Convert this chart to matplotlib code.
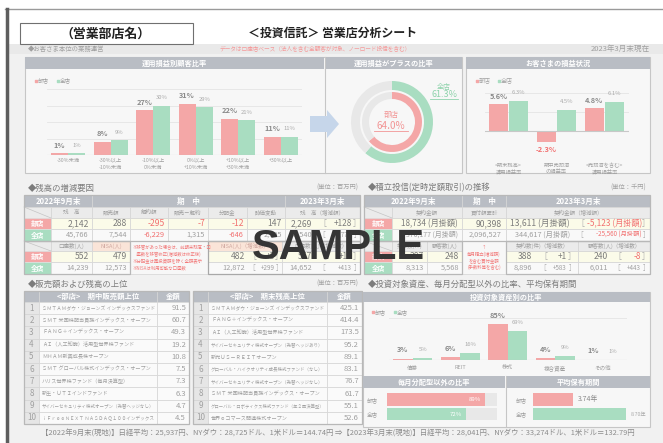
import matplotlib
matplotlib.use('Agg')
import matplotlib.pyplot as plt
from matplotlib.patches import Rectangle, Polygon
import numpy as np

plt.rcParams['font.family'] = ['Noto Sans CJK JP', 'DejaVu Sans']

# ---- data ----
pl_labels = ['-30%未満', '-30%以上\n-10%未満', '-10%以上\n0%未満',
             '0%以上\n+10%未満', '+10%以上\n+30%未満', '+30%以上']
pl_branch = [1, 8, 27, 31, 22, 11]
pl_all = [1, 9, 30, 29, 21, 11]

plus_branch = 64.0
plus_all = 61.3

status_labels = ['<期末残高>\n運用損益率', '期中売却済\nの損益率', '<売却済を含む>\n運用損益率']
status_branch = [5.6, -2.3, 4.8]
status_all = [6.3, 4.5, 6.1]

bal_heads = ['残　高', '販売額', '解約額', '販売－解約', '分配金', '時価変動']
bal_branch = [2142, 288, -295, -7, -12, 147]
bal_all = [45766, 7544, -6229, 1315, -646, 2105]
bal_end = [(2269, 128), (48540, 2774)]

acct_heads = ['口座数(人)', 'NISA(人)']
acct_start = [(552, 479), (14239, 12573)]
nisa_end = [(482, 3), (12872, 299)]
acct_end = [(567, 15), (14652, 413)]

tsumi_start = [18734, 370177]
tsumi_buy = [90398, 2096527]
tsumi_end = [(13611, -5123), (344617, -25560)]
contracts_start = [387, 8313]
customers_start = [248, 5568]
contracts_end = [(388, 1), (8896, 583)]
customers_end = [(240, -8), (6011, 443)]

sales_names = ['ＳＭＴＡＭダウ・ジョーンズ インデックスファンド',
               'ＳＭＴ 米国株配当貴族インデックス・オープン',
               'ＦＡＮＧ＋インデックス・オープン',
               'ＡＩ（人工知能）活用型世界株ファンド',
               'ＭＨＡＭ新興成長株オープン',
               'ＳＭＴ グローバル株式インデックス・オープン',
               'ハリス世界株ファンド（毎月決算型）',
               '新生・ＵＴＩインドファンド',
               'サイバーセキュリティ株式オープン（為替ヘッジなし）',
               'ｉＦｒｅｅＮＥＸＴ ＮＡＳＤＡＱ１００インデックス']
sales_values = [91.5, 60.7, 49.3, 19.2, 10.8, 7.5, 7.3, 6.3, 4.7, 4.5]

hold_names = ['ＳＭＴＡＭダウ・ジョーンズ インデックスファンド',
              'ＦＡＮＧ＋インデックス・オープン',
              'ＡＩ（人工知能）活用型世界株ファンド',
              'サイバーセキュリティ株式オープン（為替ヘッジあり）',
              '新光ＵＳ－ＲＥＩＴオープン',
              'グローバル・ハイクオリティ成長株式ファンド（なし）',
              'サイバーセキュリティ株式オープン（為替ヘッジなし）',
              'ＳＭＴ 米国株配当貴族インデックス・オープン',
              'グローバル・ロボティクス株式ファンド（年２回決算型）',
              '世界ｅコマース関連株式オープン']
hold_values = [425.1, 414.4, 173.5, 95.2, 89.1, 83.1, 76.7, 61.7, 55.1, 52.6]

asset_labels = ['債券', 'REIT', '株式', '複合資産', 'その他']
asset_branch = [3, 6, 85, 4, 1]
asset_all = [5, 16, 69, 9, 1]

non_monthly = [89, 72]
hold_years = [3.74, 8.70]
rows = ['部店', '全店']

# ---- style ----
PINK = '#f4a7a7'
GREEN = '#a9ddc1'
HEAD = '#b9bdc4'
LINE = '#d4d4d4'
GRAY = '#a0a0a0'
DARK = '#7c7c7c'
RED = '#f27070'
SUB = '#ebebeb'
YEL = '#fbfbe9'
PEACH = '#fae4d8'
PANEL = '#f7f7f7'

W, H = 663, 443
fig = plt.figure(figsize=(W / 100, H / 100), dpi=100)
bg = fig.add_axes([0, 0, 1, 1])
bg.set_xlim(0, W)
bg.set_ylim(H, 0)
bg.axis('off')


def px_axes(x0, y0, x1, y1):
    return fig.add_axes([x0 / W, 1 - y1 / H, (x1 - x0) / W, (y1 - y0) / H])


def box(x0, y0, x1, y1, fc, ec=LINE, lw=0.5, z=2, **kw):
    bg.add_patch(Rectangle((x0, y0), x1 - x0, y1 - y0, fc=fc, ec=ec, lw=lw, zorder=z, **kw))


def put(x, y, s, size=5, color=GRAY, ha='center', weight='normal', z=4, **kw):
    return bg.text(x, y, s, fontsize=size, color=color, ha=ha, va='center',
                   fontweight=weight, zorder=z, **kw)


def diag(x0, y0, x1, y1):
    box(x0, y0, x1, y1, SUB)
    bg.plot([x0, x1], [y0, y1], color='#c4c4c4', lw=0.5, zorder=3)


def legend_at(x, y, size=4):
    bg.scatter([x], [y], s=2.5, marker='s', color=PINK, zorder=5)
    put(x + 2, y, '部店', size, GRAY, ha='left')
    bg.scatter([x + 22], [y], s=2.5, marker='s', color=GREEN, zorder=5)
    put(x + 24, y, '全店', size, GRAY, ha='left')


def bar_axes(x0, y0, x1, y1):
    ax = px_axes(x0, y0, x1, y1)
    ax.set_facecolor('none')
    for s in ax.spines.values():
        s.set_visible(False)
    ax.tick_params(length=0, labelleft=False)
    return ax


def label_bars(ax, xs, vals, fmt, size, color, weight, off, neg_color=None):
    for xi, v in zip(xs, vals):
        c = neg_color if (v < 0 and neg_color) else color
        ax.annotate(fmt.format(v), (xi, v), xytext=(0, off if v >= 0 else -off),
                    textcoords='offset points', ha='center', va='center',
                    fontsize=size, color=c, fontweight=weight)


def fmt_num(v):
    return f'{v:,}'


def fmt_delta(v):
    return f'{v:+,}'


# ---- page frame ----
box(8, 44, W, H, '#f1f1f1', ec='none', z=0)
box(8, 44, W, 54, '#e9e9e9', ec='none', z=0)
bg.plot([5, W], [9, 9], color='#9a9a9a', lw=1)
bg.plot([6.5, 6.5], [9, H], color='#5e5e5e', lw=2.5)

box(20, 23, 193, 44, 'white', ec='#707070', lw=0.8)
put(106, 33.5, '（営業部店名）', 9.3, '#222222', weight='bold')
put(332, 33.5, '＜投資信託＞ 営業店分析シート', 8.6, '#222222', weight='bold')

put(28, 49, '◆お客さま本位の業務運営', 4.6, GRAY, ha='left')
put(315, 49, 'データは口座店ベース（法人を含む全顧客が対象、ノーロード投信を含む）', 4.1, '#f59a9a')
put(650, 49, '2023年3月末現在', 5.5, GRAY, ha='right')

# ---- top panels ----
box(25, 57, 462, 173, PANEL, ec='#c6c6c6', lw=0.8)
box(466, 57, 650, 173, PANEL, ec='#c6c6c6', lw=0.8)
bg.plot([325, 325], [57, 173], color='#c6c6c6', lw=0.8, zorder=3)
box(25, 57, 324, 69, HEAD, ec='none', z=3)
box(326, 57, 462, 69, HEAD, ec='none', z=3)
box(466, 57, 650, 69, HEAD, ec='none', z=3)
put(174.5, 63, '運用損益別顧客比率', 5.2, 'white', weight='bold')
put(394, 63, '運用損益がプラスの比率', 5.2, 'white', weight='bold')
put(558, 63, 'お客さまの損益状況', 5.2, 'white', weight='bold')

# chart 1: customers by P/L bucket
legend_at(36, 80.5)
ax1 = bar_axes(47, 89, 302, 155)
x = np.arange(len(pl_labels))
ax1.bar(x - 0.205, pl_branch, 0.4, color=PINK, zorder=3)
ax1.bar(x + 0.205, pl_all, 0.4, color=GREEN, zorder=3)
ax1.set_xlim(-0.5, len(pl_labels) - 0.5)
ax1.set_ylim(0, 40)
ax1.set_yticks([10, 20, 30, 40])
ax1.grid(axis='y', color='#e4e4e4', lw=0.6)
ax1.axhline(0, color='#c8c8c8', lw=0.8, zorder=4)
ax1.set_xticks(x, pl_labels, fontsize=3.8, color=GRAY, linespacing=1.6)
ax1.tick_params(axis='x', pad=1.8)
label_bars(ax1, x - 0.205, pl_branch, '{}%', 5.3, '#8a8a8a', 'bold', 5.8)
label_bars(ax1, x + 0.205, pl_all, '{}%', 4.2, '#aaaaaa', 'normal', 5.8)
box(173, 76, 307, 173, 'none', ec='#c5d3ea', lw=0.7, z=1, ls=(0, (3, 2)))

# arrow
bg.add_patch(Polygon([(310, 116), (327, 116), (327, 110), (339, 124), (327, 138),
                      (327, 132), (310, 132)], closed=True, fc='#c6d6ea', ec='none', zorder=3))

# donut: ratio of customers with positive P/L
axd = px_axes(347, 77, 437, 167)
axd.pie([plus_all, 100 - plus_all], radius=41, startangle=90, counterclock=False,
        colors=[GREEN, '#e8e8e8'], wedgeprops=dict(width=9, linewidth=0))
axd.pie([plus_branch, 100 - plus_branch], radius=30, startangle=90, counterclock=False,
        colors=[PINK, '#e8e8e8'], wedgeprops=dict(width=7, linewidth=0))
axd.set_xlim(-45, 45)
axd.set_ylim(-45, 45)
axd.set_aspect('equal')
axd.axis('off')
put(391, 115, '部店', 5.4, '#f29595')
put(391, 126, f'{plus_branch:.1f}%', 7.2, '#f29595')
bg.plot([374, 408], [131, 131], color='#f29595', lw=0.6, zorder=4)
put(444, 87, '全店', 5, '#8fd3ac')
put(444, 94.5, f'{plus_all:.1f}%', 6.5, '#8fd3ac')
bg.plot([430, 458], [99, 99], color='#8fd3ac', lw=0.6, zorder=4)

# chart 3: customer P/L status
legend_at(477, 80.5, 4.3)
ax3 = bar_axes(484.5, 93, 628.5, 150)
x3 = np.arange(len(status_labels))
ax3.bar(x3 - 0.21, status_branch, 0.41, color=PINK, zorder=3)
ax3.bar(x3 + 0.21, status_all, 0.41, color=GREEN, zorder=3)
ax3.set_xlim(-0.5, len(status_labels) - 0.5)
ax3.set_ylim(-4, 8)
ax3.set_yticks([-4, 4, 8])
ax3.grid(axis='y', color='#e4e4e4', lw=0.6)
ax3.axhline(0, color='#c8c8c8', lw=0.8, zorder=4)
ax3.set_xticks(x3, status_labels, fontsize=3.8, color=GRAY, linespacing=1.6)
ax3.tick_params(axis='x', pad=9)
label_bars(ax3, x3 - 0.21, status_branch, '{}%', 5.3, '#8a8a8a', 'bold', 5.5, neg_color=RED)
label_bars(ax3, x3 + 0.21, status_all, '{}%', 4.2, '#aaaaaa', 'normal', 6)

# ---- section 2 titles ----
put(28, 188, '◆残高の増減要因', 6, DARK, ha='left')
put(358, 188, '(単位：百万円)', 4.5, GRAY, ha='right')
put(368, 188, '◆積立投信(定時定額取引)の推移', 6, DARK, ha='left')
put(646, 188, '(単位：千円)', 4.5, GRAY, ha='right')

# ---- table 1: balance changes ----
t1x = [24, 51, 92, 130, 168, 208, 247, 285, 360]
ty = [195, 207, 218, 229, 241, 251, 262, 274]
for (a, b), s in zip([(24, 92), (92, 285), (285, 360)], ['2022年9月末', '期　中', '2023年3月末']):
    box(a, ty[0], b, ty[1], HEAD, ec='#d6d6d6')
    put((a + b) / 2, (ty[0] + ty[1]) / 2, s, 5.5, 'white', weight='bold')
diag(t1x[0], ty[1], t1x[1], ty[2])
for i, s in enumerate(bal_heads + ['残　高（増減額）']):
    a, b = t1x[i + 1], t1x[i + 2]
    box(a, ty[1], b, ty[2], SUB)
    put((a + b) / 2, (ty[1] + ty[2]) / 2, s, 4, GRAY)

row_col = [PINK, GREEN]
row_bg = [YEL, '#f9f9f9']
row_size = [6.2, 5.3]
row_txt = [DARK, GRAY]


def row_label(r, y0, y1):
    box(t_lx0, y0, t_lx1, y1, row_col[r], ec='#e0e0e0')
    put((t_lx0 + t_lx1) / 2, (y0 + y1) / 2, rows[r], 4.8, 'white', weight='bold')


def bracket_cell(a, b, y0, y1, pair, r, vr, lb, dr, rb, fmt=fmt_num, dfmt=fmt_delta):
    yc = (y0 + y1) / 2
    v, d = pair
    sz = row_size[r]
    put(vr, yc, fmt(v), sz, row_txt[r], ha='right')
    put(lb, yc, '［', sz - 0.5, '#b0b0b0')
    put(dr, yc, dfmt(d), sz - 0.8 if r else sz - 0.3, RED if d < 0 else row_txt[r], ha='right')
    put(rb, yc, '］', sz - 0.5, '#b0b0b0')


t_lx0, t_lx1 = 24, 51
for r, vals in enumerate([bal_branch, bal_all]):
    y0, y1 = ty[2 + r], ty[3 + r]
    row_label(r, y0, y1)
    for i, v in enumerate(vals):
        a, b = t1x[i + 1], t1x[i + 2]
        box(a, y0, b, y1, row_bg[r])
        put(b - 3, (y0 + y1) / 2, fmt_num(v), row_size[r], RED if v < 0 else row_txt[r], ha='right')
    box(285, y0, 360, y1, row_bg[r])
    bracket_cell(285, 360, y0, y1, bal_end[r], r, 312, 322, 352, 357)

# lower part of table 1
diag(24, ty[4], 51, ty[5])
box(51, ty[4], 92, ty[5], SUB)
put(71.5, (ty[4] + ty[5]) / 2, acct_heads[0], 4, GRAY)
box(92, ty[4], 130, ty[5], PEACH)
put(111, (ty[4] + ty[5]) / 2, acct_heads[1], 4, '#d0a8a0')
for r in range(2):
    y0, y1 = ty[5 + r], ty[6 + r]
    row_label(r, y0, y1)
    for j, (a, b) in enumerate([(51, 92), (92, 130)]):
        box(a, y0, b, y1, row_bg[r])
        put(b - 3, (y0 + y1) / 2, fmt_num(acct_start[r][j]), row_size[r], row_txt[r], ha='right')
box(130, ty[4], 208, ty[7], PANEL)
note1 = ('※移管があった場合は、前期末残高・口\n　座数を移管修正(増減数は修正後)\n'
         '※分配金は再投資額を除く全額表示\n※NISAは利用可能な口座数')
put(132, 257.5, note1, 3.2, '#f27a7a', ha='left', linespacing=1.5)
box(208, ty[4], 282, ty[5], PEACH)
put(245, (ty[4] + ty[5]) / 2, 'NISA(人)（増減数）', 4, '#d0a8a0')
box(282, ty[4], 360, ty[5], SUB)
put(321, (ty[4] + ty[5]) / 2, '口座数(人)（増減数）', 4, GRAY)
for r in range(2):
    y0, y1 = ty[5 + r], ty[6 + r]
    box(208, y0, 282, y1, row_bg[r])
    bracket_cell(208, 282, y0, y1, nisa_end[r], r, 245, 252, 275, 279)
    box(282, y0, 360, y1, row_bg[r])
    bracket_cell(282, 360, y0, y1, acct_end[r], r, 312, 322, 352, 357)
box(208, ty[4], 360, ty[7], 'none', ec='#a8a8a8', lw=0.9, z=3)
box(24, ty[0], 360, ty[4], 'none', ec='#b8b8b8', lw=0.9, z=3)
box(24, ty[4], 130, ty[7], 'none', ec='#b8b8b8', lw=0.9, z=3)

# ---- table 2: regular investment ----
for (a, b), s in zip([(364, 462), (462, 506), (506, 650)], ['2022年9月末', '期　中', '2023年3月末']):
    box(a, ty[0], b, ty[1], HEAD, ec='#d6d6d6')
    put((a + b) / 2, (ty[0] + ty[1]) / 2, s, 5.5, 'white', weight='bold')
diag(364, ty[1], 392, ty[2])
for (a, b), s in zip([(392, 462), (462, 506), (506, 650)], ['契約金額', '買付額累計', '契約金額（増減額）']):
    box(a, ty[1], b, ty[2], SUB)
    put((a + b) / 2, (ty[1] + ty[2]) / 2, s, 4, GRAY)
t_lx0, t_lx1 = 364, 392
for r in range(2):
    y0, y1 = ty[2 + r], ty[3 + r]
    yc = (y0 + y1) / 2
    row_label(r, y0, y1)
    box(392, y0, 462, y1, row_bg[r])
    put(458, yc, fmt_num(tsumi_start[r]) + ' (月掛額)', row_size[r] - 0.3, row_txt[r], ha='right')
    box(462, y0, 506, y1, row_bg[r])
    put(502, yc, fmt_num(tsumi_buy[r]), row_size[r], row_txt[r], ha='right')
    box(506, y0, 650, y1, row_bg[r])
    bracket_cell(506, 650, y0, y1, tsumi_end[r], r, 570, 580, 642, 646,
                 fmt=lambda v: fmt_num(v) + ' (月掛額)',
                 dfmt=lambda v: fmt_delta(v) + ' (月掛額)')

diag(364, ty[4], 392, ty[5])
for (a, b), s in zip([(392, 427), (427, 462), (506, 578), (578, 650)],
                     ['契約数(件)', '顧客数(人)', '契約数(件)（増減数）', '顧客数(人)（増減数）']):
    box(a, ty[4], b, ty[5], SUB)
    put((a + b) / 2, (ty[4] + ty[5]) / 2, s, 4, GRAY)
for r in range(2):
    y0, y1 = ty[5 + r], ty[6 + r]
    yc = (y0 + y1) / 2
    row_label(r, y0, y1)
    box(392, y0, 427, y1, row_bg[r])
    put(424, yc, fmt_num(contracts_start[r]), row_size[r], row_txt[r], ha='right')
    box(427, y0, 462, y1, row_bg[r])
    put(459, yc, fmt_num(customers_start[r]), row_size[r], row_txt[r], ha='right')
    box(506, y0, 578, y1, row_bg[r])
    bracket_cell(506, 578, y0, y1, contracts_end[r], r, 532, 543, 567, 572)
    box(578, y0, 650, y1, row_bg[r])
    bracket_cell(578, 650, y0, y1, customers_end[r], r, 608, 617, 641, 646)
box(462, ty[4], 506, ty[7], PANEL)
put(484, 257.5, '↑\n毎月積立(増減額)\nを含む買付金額\n(手数料等を含む)', 3.2, '#f27a7a', linespacing=1.4)
box(364, ty[0], 650, ty[4], 'none', ec='#b8b8b8', lw=0.9, z=3)
box(364, ty[4], 462, ty[7], 'none', ec='#b8b8b8', lw=0.9, z=3)
box(506, ty[4], 650, ty[7], 'none', ec='#b8b8b8', lw=0.9, z=3)

# ---- section 3: rankings ----
put(28, 284, '◆販売額および残高の上位', 6, DARK, ha='left')
put(358, 284, '(単位：百万円)', 4.5, GRAY, ha='right')
ry = [291, 302]
row_h = (424 - 302) / 10
fig.canvas.draw()
renderer = fig.canvas.get_renderer()


def rank_table(cols, title, names, values):
    c0, c1, c2, c3 = cols
    box(c0, ry[0], c1, ry[1], HEAD, ec='#d6d6d6')
    box(c1, ry[0], c2, ry[1], HEAD, ec='#d6d6d6')
    put((c1 + c2) / 2, 296.5, title, 5.3, 'white', weight='bold')
    box(c2, ry[0], c3, ry[1], HEAD, ec='#d6d6d6')
    put((c2 + c3) / 2, 296.5, '金額', 5.3, 'white', weight='bold')
    for i, (n, v) in enumerate(zip(names, values)):
        y0 = ry[1] + i * row_h
        yc = y0 + row_h / 2
        box(c0, y0, c1, y0 + row_h, '#e6e6e6')
        put((c0 + c1) / 2, yc, str(i + 1), 5.8, GRAY)
        box(c1, y0, c2, y0 + row_h, '#fafafa')
        t = put(c1 + 3, yc, n, 3.7, GRAY, ha='left')
        wpx = t.get_window_extent(renderer).width
        lim = c2 - c1 - 6
        if wpx > lim:
            t.set_fontsize(3.7 * lim / wpx)
        box(c2, y0, c3, y0 + row_h, '#fafafa')
        put(c3 - 3, yc, f'{v:.1f}', 5.5, GRAY, ha='right')
    box(c0, ry[0], c3, 424, 'none', ec='#b8b8b8', lw=0.9, z=3)


rank_table([24, 39, 157, 189], '<部店>　期中販売額上位', sales_names, sales_values)
rank_table([193, 208, 327, 362], '<部店>　期末残高上位', hold_names, hold_values)

# ---- section 3: assets panel ----
put(368, 284, '◆投資対象資産、毎月分配型以外の比率、平均保有期間', 6, DARK, ha='left')
box(363, 292, 650, 427, PANEL, ec='#c6c6c6', lw=0.8)
box(363, 292, 650, 302, HEAD, ec='none', z=3)
put(506.5, 297, '投資対象資産別の比率', 5.2, 'white', weight='bold')
legend_at(373, 312, 4)
ax4 = bar_axes(389, 318, 626.5, 360)
x4 = np.arange(len(asset_labels))
ax4.bar(x4 - 0.21, asset_branch, 0.41, color=PINK, zorder=3)
ax4.bar(x4 + 0.21, asset_all, 0.41, color=GREEN, zorder=3)
ax4.set_xlim(-0.5, len(asset_labels) - 0.5)
ax4.set_ylim(0, 100)
ax4.set_yticks([100])
ax4.grid(axis='y', color='#e4e4e4', lw=0.6)
ax4.axhline(0, color='#c8c8c8', lw=0.8, zorder=4)
ax4.set_xticks(x4, asset_labels, fontsize=4, color=GRAY)
ax4.tick_params(axis='x', pad=3.9)
label_bars(ax4, x4 - 0.21, asset_branch, '{}%', 5.3, '#8a8a8a', 'bold', 6.3)
label_bars(ax4, x4 + 0.21, asset_all, '{}%', 4.2, '#aaaaaa', 'normal', 6)

box(363, 376, 505, 388, HEAD, ec='none', z=3)
box(506, 376, 650, 388, HEAD, ec='none', z=3)
bg.plot([505.5, 505.5], [376, 427], color='#c6c6c6', lw=0.8, zorder=3)
put(434, 382, '毎月分配型以外の比率', 5.2, 'white', weight='bold')
put(578, 382, '平均保有期間', 5.2, 'white', weight='bold')

ax5 = bar_axes(387, 392.25, 497, 421.25)
ax5.barh([0, 1], [100, 100], height=0.86, color='#e8e8e8')
ax5.barh([0, 1], non_monthly, height=0.86, color=[PINK, GREEN])
ax5.set_xlim(0, 100)
ax5.set_ylim(1.5, -0.5)
ax5.set_xticks([])
ax5.set_yticks([0, 1], rows, fontsize=4, color=GRAY)
ax5.tick_params(axis='y', pad=6.5, labelleft=True)
for i, v in enumerate(non_monthly):
    ax5.annotate(f'{v}%', (v, i), xytext=(-3, 0), textcoords='offset points',
                 ha='right', va='center', fontsize=4.3, color='white')

ax6 = bar_axes(533, 392.25, 645, 421.25)
ax6.barh([0, 1], hold_years, height=0.86, color=[PINK, GREEN])
ax6.set_xlim(0, 10.5)
ax6.set_ylim(1.5, -0.5)
ax6.set_xticks([])
ax6.set_yticks([0, 1], rows, fontsize=4, color=GRAY)
ax6.tick_params(axis='y', pad=4.5, labelleft=True)
for i, v in enumerate(hold_years):
    ax6.annotate(f'{v:.2f}年', (v, i), xytext=(3.5, 0), textcoords='offset points',
                 ha='left', va='center', fontsize=[5, 3.8][i], color=['#8a8a8a', '#aaaaaa'][i])

# ---- footer ----
put(338, 434, '【2022年9月末(現地)】日経平均：25,937円、NYダウ：28,725ドル、1米ドル＝144.74円 ⇒'
              '【2023年3月末(現地)】日経平均：28,041円、NYダウ：33,274ドル、1米ドル＝132.79円',
    5.35, '#8c8c8c')

# ---- watermark ----
bg.text(338, 248, 'SAMPLE', fontsize=30, family='Liberation Sans', fontweight='bold',
        color='#353535', ha='center', va='center', zorder=50)

fig.savefig('out.png', dpi=100)
